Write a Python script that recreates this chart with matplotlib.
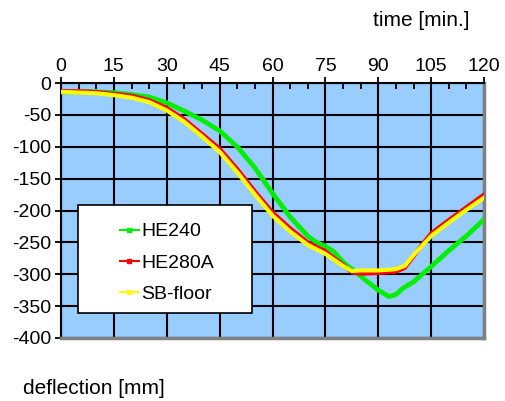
import matplotlib
matplotlib.use('Agg')
import matplotlib.pyplot as plt
from matplotlib.lines import Line2D
from matplotlib.patches import Rectangle
import numpy as np

# time [min] and deflection [mm]
t_he240 = [0, 5, 10, 15, 20, 25, 30, 35, 40, 45, 50, 55, 60, 65, 70, 72.5, 75, 77.5,
           80, 85, 90, 93, 95, 97, 100, 105, 110, 115, 120]
d_he240 = [-14, -14, -14, -15, -18, -22, -31, -44, -58, -75, -100, -133, -173, -210, -240,
           -250, -256, -265, -281, -303, -325, -335, -332, -322, -312, -288, -263, -240, -214]

t_he280a = [0, 5, 10, 15, 20, 25, 30, 35, 40, 45, 50, 55, 60, 65, 70, 75, 80, 82.5,
            85, 90, 95, 97.5, 100, 102.5, 105, 110, 115, 120]
d_he280a = [-13, -13, -14, -17, -20, -27, -39, -57, -80, -103, -135, -170, -203, -228, -250,
            -264, -285, -297, -299, -298, -296, -290, -272, -253, -236, -215, -195, -175]

t_sb = [0, 5, 10, 15, 20, 25, 30, 35, 40, 45, 50, 55, 60, 65, 70, 75, 80, 82.5,
        85, 90, 95, 97.5, 100, 102.5, 105, 110, 115, 120]
d_sb = [-14, -15, -16, -19, -23, -30, -43, -61, -84, -108, -140, -175, -208, -233, -254,
        -268, -287, -295, -294, -294, -292, -287, -270, -255, -240, -219, -199, -180]

series_names = ['HE240', 'HE280A', 'SB-floor']
series_colors = ['#00EE00', '#FF0000', '#FFFF00']

x_ticks = np.arange(0, 121, 15)
y_ticks = np.arange(-400, 1, 50)

plt.rcParams['font.family'] = ['Liberation Sans', 'DejaVu Sans']
plt.rcParams['axes.unicode_minus'] = False
fs = 14

W, H = 505, 401
fig = plt.figure(figsize=(W / 100, H / 100), dpi=100)

left, right, top, bottom = 61, 484, 83, 338
ax = fig.add_axes([left / W, 1 - bottom / H, (right - left) / W, (bottom - top) / H])
ax.set_facecolor('#99CCFF')

ax.plot(t_he240, d_he240, color=series_colors[0], lw=3.4, zorder=3)
ax.plot(t_he280a, d_he280a, color=series_colors[1], lw=3.0, zorder=4)
ax.plot(t_sb, d_sb, color=series_colors[2], lw=3.0, zorder=5)

ax.set_xlim(0, 120)
ax.set_ylim(-400, 0)
ax.set_xticks(x_ticks)
ax.set_yticks(y_ticks)
ax.set_xticks(np.arange(0, 121, 5), minor=True)
ax.xaxis.tick_top()
ax.tick_params(axis='x', which='major', direction='inout', length=8, width=1.3,
               labelsize=fs, pad=2)
ax.tick_params(axis='x', which='minor', direction='in', length=4, width=1.3)
ax.tick_params(axis='y', which='major', direction='out', length=4, width=1.3,
               labelsize=fs, pad=3)
ax.grid(True, which='major', color='black', lw=1.5, zorder=1)
ax.set_axisbelow(True)

for side in ['top', 'left']:
    ax.spines[side].set_color('black')
    ax.spines[side].set_linewidth(1.5)
for side in ['right', 'bottom']:
    ax.spines[side].set_color('#808080')
    ax.spines[side].set_linewidth(2.5)

# legend box
box = Rectangle((0.040, 0.098), 0.4115, 0.4236, transform=ax.transAxes,
                facecolor='white', edgecolor='black', lw=1.2, zorder=6)
ax.add_patch(box)
handles = [Line2D([], [], color=c, lw=1.5, marker='s', markersize=3) for c in series_colors]
leg = ax.legend(handles, series_names, loc='upper left', bbox_to_anchor=(0.12, 0.482),
                frameon=False, fontsize=fs, handlelength=1.0, handletextpad=0.1,
                labelspacing=0.7, borderaxespad=0)
leg.set_zorder(7)

fig.text(373 / W, 1 - 20 / H, 'time [min.]', ha='left', va='center', fontsize=15)
fig.text(23 / W, 1 - 388 / H, 'deflection [mm]', ha='left', va='center', fontsize=15)

fig.savefig('out.png', dpi=100)
